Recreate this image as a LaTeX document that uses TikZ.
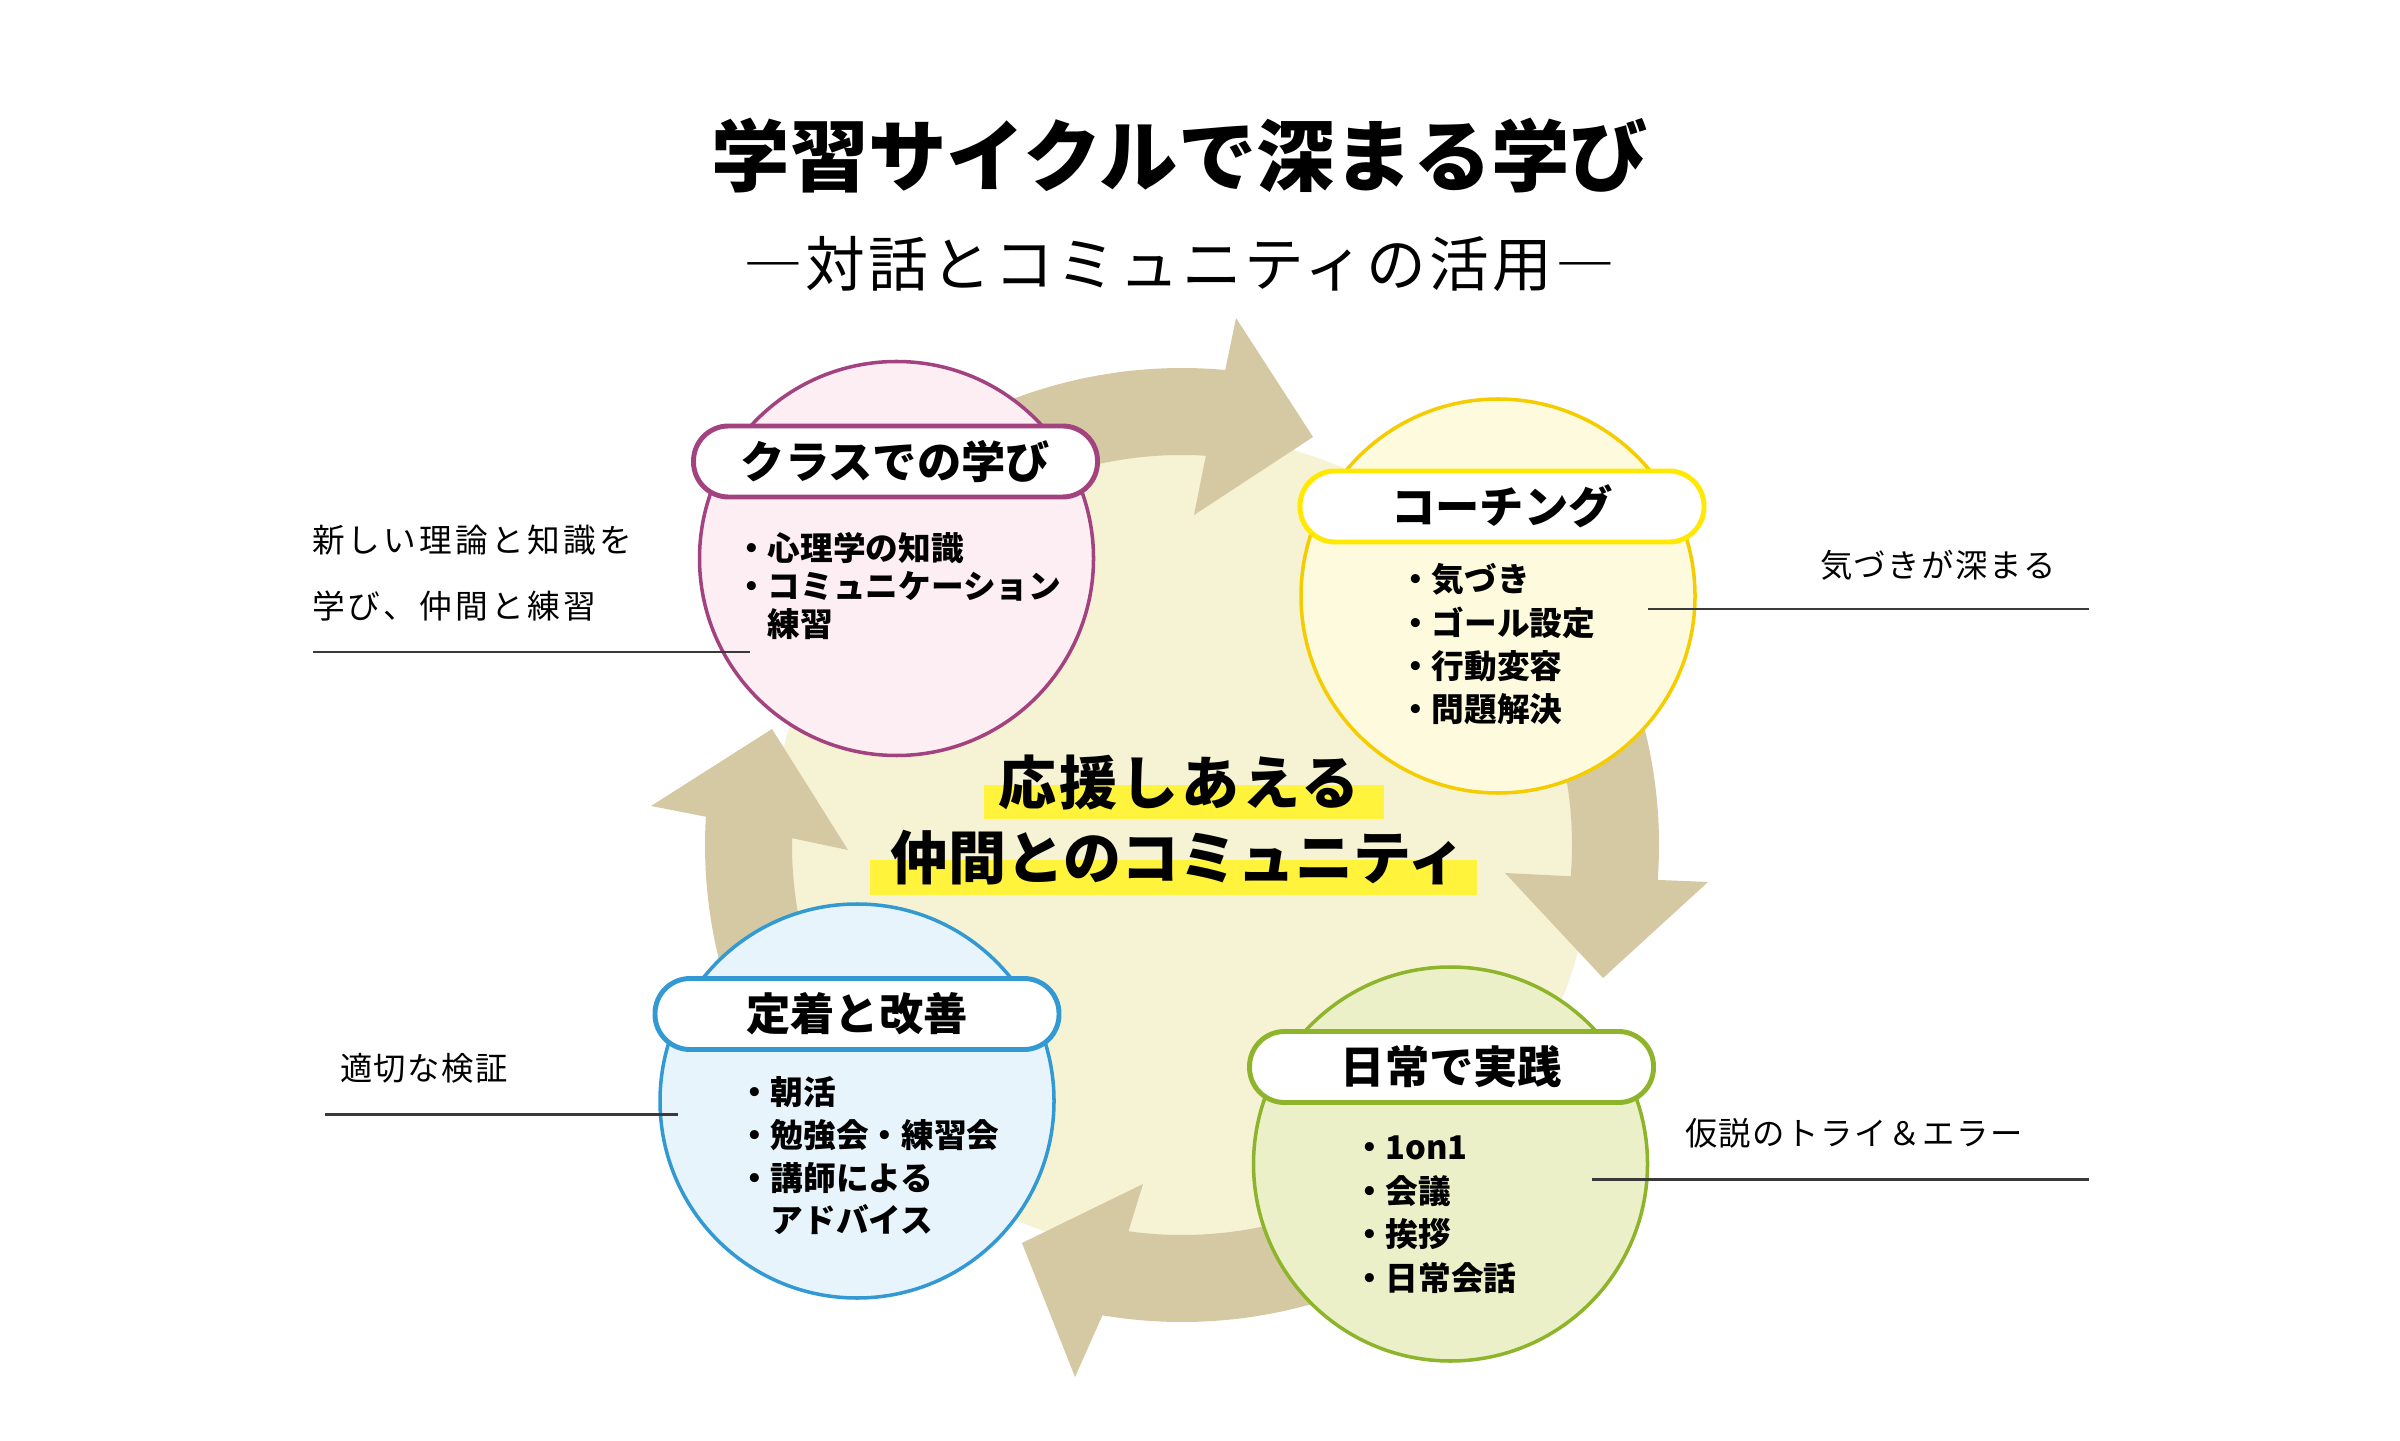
\documentclass[tikz,border=0pt]{standalone}
\usepackage{fontspec}
\setmainfont{Noto Sans CJK JP}
\newfontfamily\jpsubt[LetterSpace=5]{Noto Sans CJK JP}
\newfontfamily\jplabA[LetterSpace=10]{Noto Sans CJK JP}
\newfontfamily\jplabB[LetterSpace=5]{Noto Sans CJK JP}
\newfontfamily\jpcenA[LetterSpace=5]{Noto Sans CJK JP}
\usetikzlibrary{calc}
\definecolor{arrowtan}{HTML}{D5C9A3}
\definecolor{cream}{HTML}{F6F2D4}
\definecolor{pinkfill}{HTML}{FCEEF3}
\definecolor{pinkline}{HTML}{A2427F}
\definecolor{yelfill}{HTML}{FEFADD}
\definecolor{yelline}{HTML}{F5CC00}
\definecolor{yelpill}{HTML}{FFE900}
\definecolor{bluefill}{HTML}{E8F4FC}
\definecolor{blueline}{HTML}{3399D3}
\definecolor{greenfill}{HTML}{EBF0C8}
\definecolor{greenline}{HTML}{8DB42B}
\definecolor{hl}{HTML}{FFF33B}
\definecolor{leadgray}{HTML}{3A3A3A}
\begin{document}
\begin{tikzpicture}[
  every node/.style={inner sep=0pt, outer sep=0pt},
  bubble/.style={circle, minimum size=3.94cm, line width=1.0pt},
  pill/.style={rectangle, rounded corners=0.35cm, minimum width=4.04cm, minimum height=0.71cm, fill=white, line width=1.4pt, font=\fontsize{12.6pt}{14pt}\selectfont\bfseries},
  item/.style={anchor=west, font=\fontsize{9.3pt}{11pt}\selectfont\bfseries},
  side/.style={anchor=west, font=\jplabB\fontsize{9.2pt}{11pt}\selectfont},
  leader/.style={line width=0.85pt, draw=leadgray},
]
\fill[white] (0,0) rectangle (24,14.4);
\useasboundingbox (0,0) rectangle (24,14.4);
\coordinate (C) at (11.82,5.95);
\fill[cream] (C) circle[radius=4.10];
% top arrow
\fill[arrowtan] ($(C)+(147:4.77)$) arc[start angle=147, end angle=84.8, radius=4.77] -- (12.36,11.22) -- (13.13,10.03) -- (11.94,9.25) -- ($(C)+(86.5:3.90)$) arc[start angle=86.5, end angle=147, radius=3.90] -- cycle;
% right arrow
\fill[arrowtan] ($(C)+(57.5:4.77)$) arc[start angle=57.5, end angle=-4.2, radius=4.77] -- (17.08,5.58) -- (16.03,4.62) -- (15.05,5.67) -- ($(C)+(-4.6:3.90)$) arc[start angle=-4.6, end angle=57.5, radius=3.90] -- cycle;
% bottom arrow
\fill[arrowtan] ($(C)+(323.1:4.77)$) arc[start angle=323.1, end angle=260.4, radius=4.77] -- (10.75,0.63) -- (10.22,1.97) -- (11.43,2.56) -- ($(C)+(262.1:3.90)$) arc[start angle=262.1, end angle=323.1, radius=3.90] -- cycle;
% left arrow
\fill[arrowtan] ($(C)+(239.2:4.77)$) arc[start angle=239.2, end angle=176.6, radius=4.77] -- (6.51,6.34) -- (7.72,7.11) -- (8.48,5.90) -- ($(C)+(179.0:3.90)$) arc[start angle=179.0, end angle=239.2, radius=3.90] -- cycle;
% circles
\node[bubble, fill=pinkfill, draw=pinkline] (pc) at (8.965,8.815) {};
\node[bubble, fill=yelfill, draw=yelline] (yc) at (14.98,8.44) {};
\node[bubble, fill=bluefill, draw=blueline] (bc) at (8.57,3.39) {};
\node[bubble, fill=greenfill, draw=greenline] (gc) at (14.505,2.76) {};
% pills
\node[pill, draw=pinkline] (pp) at (8.955,9.785) {クラスでの学び};
\node[pill, draw=yelpill] (yp) at (15.02,9.335) {コーチング};
\node[pill, draw=blueline] (bp) at (8.57,4.26) {定着と改善};
\node[pill, draw=greenline] (gp) at (14.515,3.73) {日常で実践};
% items
\node[item] (p1) at (7.35,8.92) {・心理学の知識};
\node[item] (p2) at (7.35,8.54) {・コミュニケーション};
\node[item] (p3) at (7.35,8.16) {\hphantom{・}練習};
\node[item] (y1) at (13.99,8.61) {・気づき};
\node[item] (y2) at (13.99,8.17) {・ゴール設定};
\node[item] (y3) at (13.99,7.74) {・行動変容};
\node[item] (y4) at (13.99,7.31) {・問題解決};
\node[item] (b1) at (7.38,3.48) {・朝活};
\node[item] (b2) at (7.38,3.05) {・勉強会・練習会};
\node[item] (b3) at (7.38,2.62) {・講師による};
\node[item] (b4) at (7.38,2.20) {\hphantom{・}アドバイス};
\node[item] (g1) at (13.53,2.92) {・1on1};
\node[item] (g2) at (13.53,2.49) {・会議};
\node[item] (g3) at (13.53,2.06) {・挨拶};
\node[item] (g4) at (13.53,1.62) {・日常会話};
% center
\fill[hl] (9.84,6.21) rectangle (13.84,6.55);
\fill[hl] (8.70,5.45) rectangle (14.77,5.80);
\node[font=\jpcenA\fontsize{16.5pt}{19pt}\selectfont\bfseries] (ct1) at (11.79,6.57) {応援しあえる};
\node[font=\fontsize{16.5pt}{19pt}\selectfont\bfseries] (ct2) at (11.78,5.82) {仲間とのコミュニティ};
% titles
\node[font=\fontsize{22.3pt}{26pt}\selectfont\bfseries] (title) at (11.80,12.84) {学習サイクルで深まる学び};
\node[font=\jpsubt\fontsize{17pt}{20pt}\selectfont] (sub) at (11.79,11.76) {―対話とコミュニティの活用―};
% side labels
\node[side, font=\jplabA\fontsize{9.3pt}{11pt}\selectfont] (sl1) at (3.12,9.00) {新しい理論と知識を};
\node[side, font=\jplabA\fontsize{9.3pt}{11pt}\selectfont] (sl2) at (3.12,8.34) {学び、仲間と練習};
\node[side] (sr1) at (18.20,8.75) {気づきが深まる};
\node[side] (sl3) at (3.40,3.72) {適切な検証};
\node[side] (sr2) at (16.85,3.07) {仮説のトライ＆エラー};
% leaders
\coordinate (la1) at (3.13,7.88); \coordinate (la2) at (7.50,7.88);
\coordinate (ra1) at (16.48,8.31); \coordinate (ra2) at (20.89,8.31);
\coordinate (lb1) at (3.25,3.26); \coordinate (lb2) at (6.78,3.26);
\coordinate (rb1) at (15.92,2.61); \coordinate (rb2) at (20.89,2.61);
\draw[leader] (la1) -- (la2);
\draw[leader] (ra1) -- (ra2);
\draw[leader] (lb1) -- (lb2);
\draw[leader] (rb1) -- (rb2);
\end{tikzpicture}
\end{document}
